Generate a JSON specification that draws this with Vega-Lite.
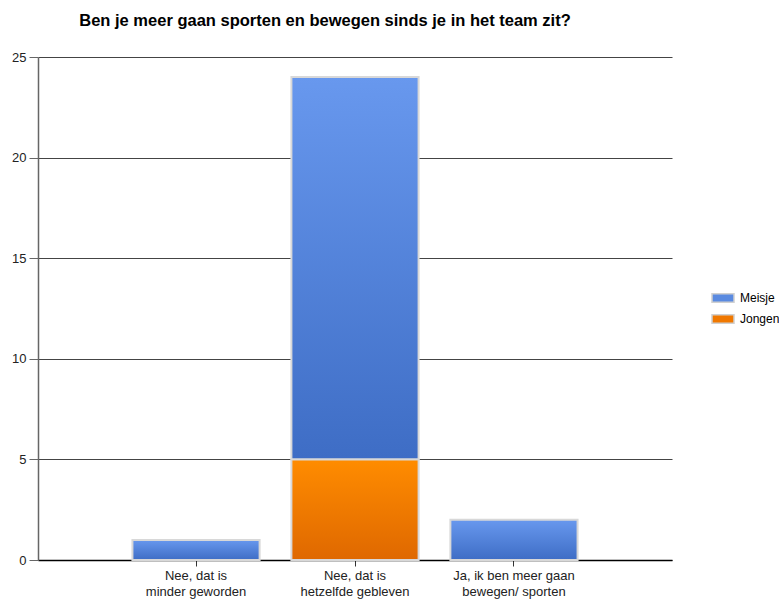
{
  "$schema": "https://vega.github.io/schema/vega-lite/v6.json",
  "width": 634,
  "height": 503,
  "autosize": {"type": "none"},
  "padding": {"left": 38, "top": 57, "right": 107, "bottom": 41},
  "background": "white",
  "config": {"font": "Liberation Sans", "view": {"stroke": null}},
  "title": {"text": "Ben je meer gaan sporten en bewegen sinds je in het team zit?", "fontSize": 16.5, "font": "Liberation Sans", "fontWeight": "bold", "color": "#000", "anchor": "middle", "dx": -30, "offset": 22},
  "data": {"values": [
    {"answer": "Nee, dat is minder geworden", "series": "Meisje", "count": 1},
    {"answer": "Nee, dat is minder geworden", "series": "Jongen", "count": 0},
    {"answer": "Nee, dat is hetzelfde gebleven", "series": "Meisje", "count": 19},
    {"answer": "Nee, dat is hetzelfde gebleven", "series": "Jongen", "count": 5},
    {"answer": "Ja, ik ben meer gaan bewegen/ sporten", "series": "Meisje", "count": 2},
    {"answer": "Ja, ik ben meer gaan bewegen/ sporten", "series": "Jongen", "count": 0}
  ]},
  "encoding": {
    "x": {"field": "answer", "type": "nominal", "sort": null,
      "scale": {"paddingInner": 0.2, "paddingOuter": 0.594},
      "axis": {"title": null, "labelAngle": 0, "tickSize": 6, "tickColor": "#333", "domainColor": "#000", "domainWidth": 1.5,
        "labelExpr": "datum.value == 'Nee, dat is minder geworden' ? ['Nee, dat is', 'minder geworden'] : datum.value == 'Nee, dat is hetzelfde gebleven' ? ['Nee, dat is', 'hetzelfde gebleven'] : ['Ja, ik ben meer gaan', 'bewegen/ sporten']",
        "labelFontSize": 13, "labelColor": "#222", "labelPadding": 3, "labelLineHeight": 16, "labelBaseline": "top"}},
    "y": {"field": "count", "type": "quantitative", "stack": "zero", "scale": {"domain": [0, 25], "nice": false},
      "axis": {"title": null, "values": [0, 5, 10, 15, 20, 25], "tickSize": 9, "labelPadding": 3, "labelFontSize": 13, "labelColor": "#222",
        "grid": true, "gridColor": "#444", "gridWidth": 1, "domainColor": "#666", "domainWidth": 1.5, "tickColor": "#666"}},
    "order": {"field": "series", "sort": "ascending"}
  },
  "layer": [
    {
      "mark": {"type": "bar"},
      "encoding": {
        "color": {"field": "series", "type": "nominal",
          "scale": {"domain": ["Meisje", "Jongen"], "range": ["#5A8AE0", "#F07800"]},
          "legend": {"title": null, "orient": "none", "legendX": 673, "legendY": 229,
            "symbolType": "M-1,-0.38H1V0.38H-1Z", "symbolSize": 484, "symbolStrokeColor": "#d0d0d0", "symbolStrokeWidth": 1.5,
            "labelFontSize": 12, "labelColor": "#000", "rowPadding": 1, "labelOffset": 5, "padding": 0}}
      }
    },
    {
      "transform": [{"filter": "datum.count > 0"}],
      "mark": {"type": "bar", "stroke": "#d8d8d8", "strokeWidth": 2},
      "encoding": {
        "detail": {"field": "series"},
        "fill": {
          "condition": {"test": "datum.series === 'Meisje'",
            "value": {"gradient": "linear", "x1": 0, "y1": 0, "x2": 0, "y2": 1, "stops": [{"offset": 0, "color": "#6898EE"}, {"offset": 1, "color": "#3E6DC5"}]}},
          "value": {"gradient": "linear", "x1": 0, "y1": 0, "x2": 0, "y2": 1, "stops": [{"offset": 0, "color": "#FF8C00"}, {"offset": 1, "color": "#DF6800"}]}
        }
      }
    }
  ]
}
